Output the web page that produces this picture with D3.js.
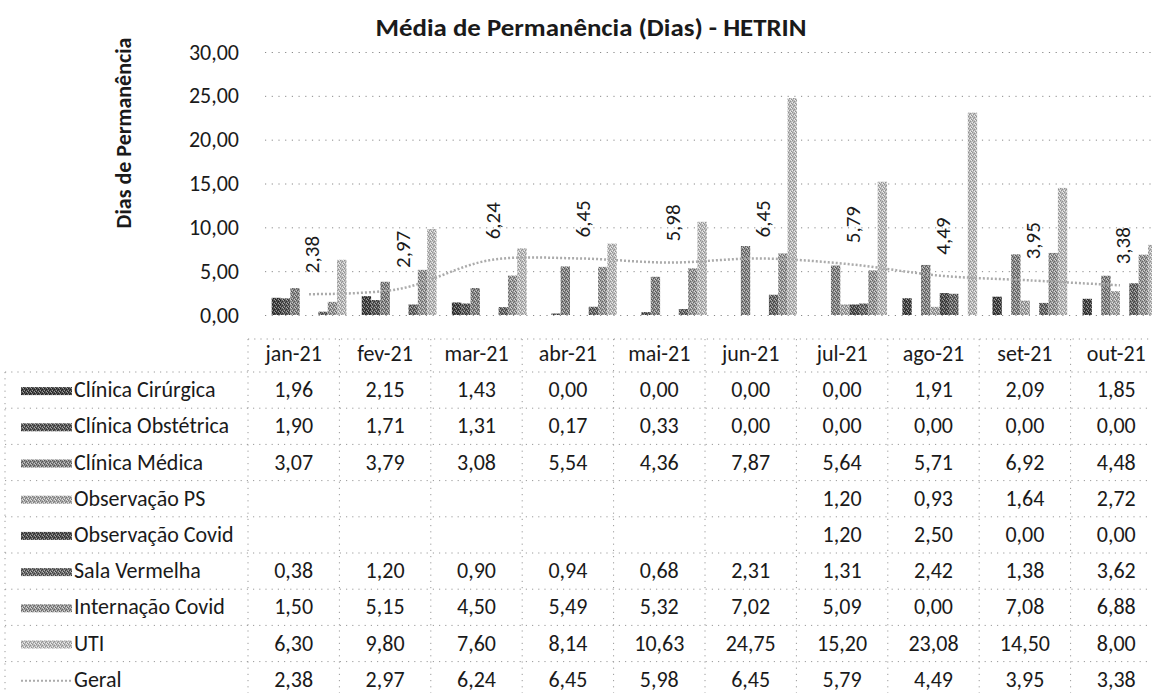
<!DOCTYPE html>
<html>
<head>
<meta charset="utf-8">
<script src="https://cdn.jsdelivr.net/npm/d3@7"></script>
<style>
  body { margin: 0; background: #fff; }
  svg { display: block; }
  text { font-family: Calibri, Carlito, Lato, "Open Sans", sans-serif; fill: #1a1a1a; }
</style>
</head>
<body>
<div id="chart"></div>
<script>
// data
const months = ["jan-21","fev-21","mar-21","abr-21","mai-21","jun-21","jul-21","ago-21","set-21","out-21"];
const seriesNames = ["Clínica Cirúrgica","Clínica Obstétrica","Clínica Médica","Observação PS","Observação Covid","Sala Vermelha","Internação Covid","UTI"];
const clinicaCirurgica = [1.96,2.15,1.43,0.00,0.00,0.00,0.00,1.91,2.09,1.85];
const clinicaObstetrica = [1.90,1.71,1.31,0.17,0.33,0.00,0.00,0.00,0.00,0.00];
const clinicaMedica = [3.07,3.79,3.08,5.54,4.36,7.87,5.64,5.71,6.92,4.48];
const observacaoPS = [null,null,null,null,null,null,1.20,0.93,1.64,2.72];
const observacaoCovid = [null,null,null,null,null,null,1.20,2.50,0.00,0.00];
const salaVermelha = [0.38,1.20,0.90,0.94,0.68,2.31,1.31,2.42,1.38,3.62];
const internacaoCovid = [1.50,5.15,4.50,5.49,5.32,7.02,5.09,0.00,7.08,6.88];
const uti = [6.30,9.80,7.60,8.14,10.63,24.75,15.20,23.08,14.50,8.00];
const geral = [2.38,2.97,6.24,6.45,5.98,6.45,5.79,4.49,3.95,3.38];
const yTicks = [0,5,10,15,20,25,30];
const seriesValues = [clinicaCirurgica,clinicaObstetrica,clinicaMedica,observacaoPS,observacaoCovid,salaVermelha,internacaoCovid,uti];

// halftone-ish gray fills: [base, dark dots, light dots]
const tones = [
  ["#4c4c4c","#1e1e1e","#9a9a9a"],
  ["#616161","#303030","#a8a8a8"],
  ["#8a8a8a","#555555","#c8c8c8"],
  ["#a9a9a9","#7a7a7a","#e2e2e2"],
  ["#585858","#2a2a2a","#a0a0a0"],
  ["#707070","#3c3c3c","#b4b4b4"],
  ["#9b9b9b","#666666","#d6d6d6"],
  ["#bdbdbd","#919191","#ececec"]
];

const W = 1152, H = 693;
const FS = "22px";
const loc = d3.formatLocale({decimal: ",", thousands: ".", grouping: [3], currency: ["R$", ""]});
const fmt = loc.format(".2f");

const svg = d3.select("#chart").append("svg")
    .attr("width", W).attr("height", H);
svg.append("rect").attr("width", W).attr("height", H).attr("fill", "#fff");

// patterns
const defs = svg.append("defs");
tones.forEach((t, i) => {
  const p = defs.append("pattern").attr("id", "pat" + i)
      .attr("patternUnits", "userSpaceOnUse").attr("width", 4).attr("height", 4);
  p.append("rect").attr("width", 4).attr("height", 4).attr("fill", t[0]);
  [[0,0],[2,1],[1,2],[3,3]].forEach(d => p.append("rect").attr("x", d[0]).attr("y", d[1]).attr("width", 1).attr("height", 1).attr("fill", t[1]));
  [[2,3],[0,2],[3,0]].forEach(d => p.append("rect").attr("x", d[0]).attr("y", d[1]).attr("width", 1).attr("height", 1).attr("fill", t[2]));
});

// scales
const y = d3.scaleLinear().domain([0, 30]).range([315, 52]);
const x = d3.scaleBand().domain(months).range([264, 1165]).paddingInner(0.17).paddingOuter(0.085);
const xs = d3.scaleBand().domain(seriesNames).range([0, x.bandwidth()]);
const xt = d3.scaleBand().domain(months).range([248, 1162]); // table columns

// title (scan is a bit wider than tall)
svg.append("text").attr("transform", "translate(591,36) scale(1.12,1)").attr("text-anchor", "middle")
    .style("font-weight", "bold").style("font-size", "24px")
    .text("Média de Permanência (Dias) - HETRIN");

svg.append("text").attr("transform", "translate(131,133) rotate(-90)")
    .attr("text-anchor", "middle").style("font-weight", "bold").style("font-size", "22px")
    .text("Dias de Permanência");

// y axis: dotted grid + labels
const yAxis = svg.append("g").attr("transform", "translate(265,0)")
    .call(d3.axisLeft(y).tickValues(yTicks).tickFormat(fmt).tickSize(-(W - 265)).tickPadding(26));
yAxis.select(".domain").remove();
yAxis.selectAll(".tick line").attr("stroke", "#8a8a8a").attr("stroke-dasharray", "1.2 5.5");
yAxis.selectAll(".tick text").style("font-size", FS).attr("fill", "#1a1a1a")
    .style("font-family", 'Calibri, Carlito, Lato, "Open Sans", sans-serif');

// bars
const barG = svg.append("g");
seriesValues.forEach((vals, si) => {
  barG.append("g").selectAll("rect")
    .data(vals.map((v, i) => ({m: months[i], v: v})).filter(d => d.v))
    .join("rect")
      .attr("x", d => x(d.m) + xs(seriesNames[si]))
      .attr("width", xs.bandwidth())
      .attr("y", d => y(d.v))
      .attr("height", d => y(0) - y(d.v))
      .attr("fill", "url(#pat" + si + ")");
});

// Geral line
const line = d3.line()
    .x((d, i) => x(months[i]) + x.bandwidth() / 2)
    .y(d => y(d))
    .curve(d3.curveCatmullRom.alpha(0.5));
svg.append("path").datum(geral)
    .attr("fill", "none").attr("stroke", "#ababab").attr("stroke-width", 2.5)
    .attr("stroke-dasharray", "2 2").attr("d", line);

svg.append("g").selectAll("text").data(geral).join("text")
    .attr("transform", (d, i) => "translate(" + (x(months[i]) + x.bandwidth() / 2 + 3) + "," + (y(d) - 21) + ") rotate(-90)")
    .attr("dy", "0.35em").style("font-size", "21px")
    .text(d => fmt(d));

// data table
const rowY0 = 372, rowH = 36.2;
const tbl = svg.append("g");
const dotted = sel => sel.attr("stroke", "#9a9a9a").attr("stroke-width", 1).attr("stroke-dasharray", "1.2 5");

tbl.append("line").attr("x1", 248).attr("x2", W).attr("y1", 339).attr("y2", 339).call(dotted);
xt.domain().forEach(m => {
  tbl.append("line").attr("x1", xt(m)).attr("x2", xt(m)).attr("y1", 339).attr("y2", H).call(dotted);
});
tbl.append("line").attr("x1", 5).attr("x2", 5).attr("y1", rowY0).attr("y2", H).call(dotted);
d3.range(10).forEach(r => {
  tbl.append("line").attr("x1", 5).attr("x2", W).attr("y1", rowY0 + r * rowH).attr("y2", rowY0 + r * rowH).call(dotted);
});

tbl.selectAll("text.month").data(months).join("text").attr("class", "month")
    .attr("x", d => xt(d) + xt.bandwidth() / 2).attr("y", 361)
    .attr("text-anchor", "middle").style("font-size", FS).text(d => d);

const rows = seriesNames.concat(["Geral"]);
const rowVals = seriesValues.concat([geral]);
rows.forEach((name, r) => {
  const cy = rowY0 + r * rowH + rowH / 2;
  if (r < seriesNames.length) {
    tbl.append("rect").attr("x", 21).attr("y", cy - 3).attr("width", 51).attr("height", 8)
        .attr("fill", "url(#pat" + r + ")");
  } else {
    tbl.append("line").attr("x1", 21).attr("x2", 72).attr("y1", cy + 1).attr("y2", cy + 1)
        .attr("stroke", "#ababab").attr("stroke-width", 2).attr("stroke-dasharray", "2 2");
  }
  tbl.append("text").attr("x", 74).attr("y", cy + 7).style("font-size", FS).text(name);
  tbl.append("g").selectAll("text").data(rowVals[r]).join("text")
      .attr("x", (d, i) => xt(months[i]) + xt.bandwidth() / 2)
      .attr("y", cy + 7).attr("text-anchor", "middle").style("font-size", FS)
      .text(d => d === null ? "" : fmt(d));
});
</script>
</body>
</html>
